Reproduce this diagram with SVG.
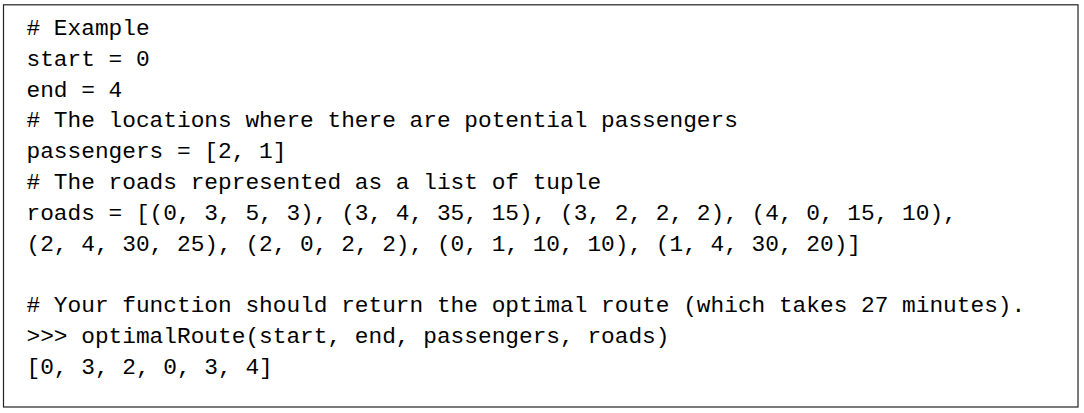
<svg xmlns="http://www.w3.org/2000/svg" width="1084" height="413" viewBox="0 0 1084 413">
<style>
.code{font-family:"Liberation Mono","DejaVu Sans Mono",monospace;font-size:22.8px;fill:#000;white-space:pre}
.frame{fill:#fff;stroke:#222;stroke-width:1.2}
</style>
<rect width="1084" height="413" fill="#fff"/>
<g id="codebox">
<rect class="frame" x="3.5" y="4.8" width="1074.5" height="402.2"/>
<text class="code" xml:space="preserve">
<tspan x="26.5" y="35">#&#160;Example</tspan>
<tspan x="26.5" y="65.8">start = 0</tspan>
<tspan x="26.5" y="96.6">end = 4</tspan>
<tspan x="26.5" y="127.4"># The locations where there are potential passengers</tspan>
<tspan x="26.5" y="158.2">passengers = [2, 1]</tspan>
<tspan x="26.5" y="189"># The roads represented as a list of tuple</tspan>
<tspan x="26.5" y="219.8">roads = [(0, 3, 5, 3), (3, 4, 35, 15), (3, 2, 2, 2), (4, 0, 15, 10),</tspan>
<tspan x="26.5" y="250.6">(2, 4, 30, 25), (2, 0, 2, 2), (0, 1, 10, 10), (1, 4, 30, 20)]</tspan>
<tspan x="26.5" y="312.2"># Your function should return the optimal route (which takes 27 minutes).</tspan>
<tspan x="26.5" y="343">&gt;&gt;&gt; optimalRoute(start, end, passengers, roads)</tspan>
<tspan x="26.5" y="373.8">[0, 3, 2, 0, 3, 4]</tspan>
</text>
</g>
</svg>
